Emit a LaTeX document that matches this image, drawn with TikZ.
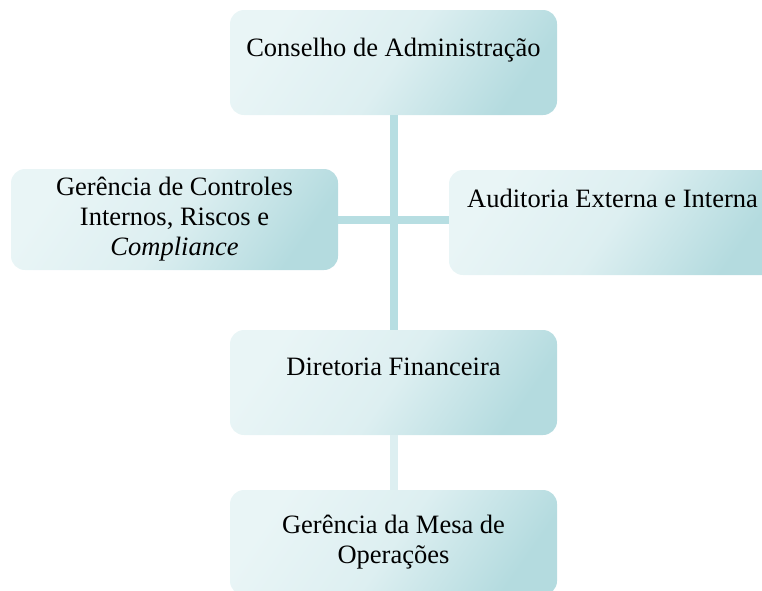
\documentclass[tikz,border=0pt]{standalone}
\usepackage{fontspec}
\setmainfont{Liberation Serif}
\definecolor{boxlight}{HTML}{E9F5F6}
\definecolor{boxmid}{HTML}{DDEFF1}
\definecolor{boxdark}{HTML}{B4DBDF}
\definecolor{linedark}{HTML}{B7DEE2}
\definecolor{linelight}{HTML}{DDEFF1}
\begin{document}
\begin{tikzpicture}[x=1pt,y=-1pt,
  orgbox/.style={rounded corners=14pt, minimum width=327pt, inner sep=0pt,
    align=center, font=\fontsize{26.5}{30}\selectfont,
    top color=boxlight, bottom color=boxdark, middle color=boxmid, shading angle=55},
  conn/.style={line width=8pt, draw=linedark},
  connlight/.style={line width=8pt, draw=linelight}]
\useasboundingbox (0,0) rectangle (762,590);
\clip (0,0) rectangle (762,590);
\node[orgbox, minimum height=105pt, text height=18pt, text depth=30pt] (b1) at (393.5,62.5) {Conselho de Administração};
\node[orgbox, minimum height=101pt] (b2) at (174.5,219.5) {Gerência de Controles\\Internos, Riscos e\\\textit{Compliance}};
\node[orgbox, minimum height=105pt, text height=18pt, text depth=48pt] (b3) at (612.5,222.5) {Auditoria Externa e Interna};
\node[orgbox, minimum height=105pt, text height=18pt, text depth=33pt] (b4) at (393.5,382.5) {Diretoria Financeira};
\node[orgbox, minimum height=105pt] (b5) at (393.5,542.5) {Gerência da Mesa de\\Operações};
\draw[conn] (b1.south) -- (b4.north);
\draw[conn] (b2.east) -- (b2.east -| b3.west);
\draw[connlight] (b4.south) -- (b5.north);
\end{tikzpicture}
\end{document}
